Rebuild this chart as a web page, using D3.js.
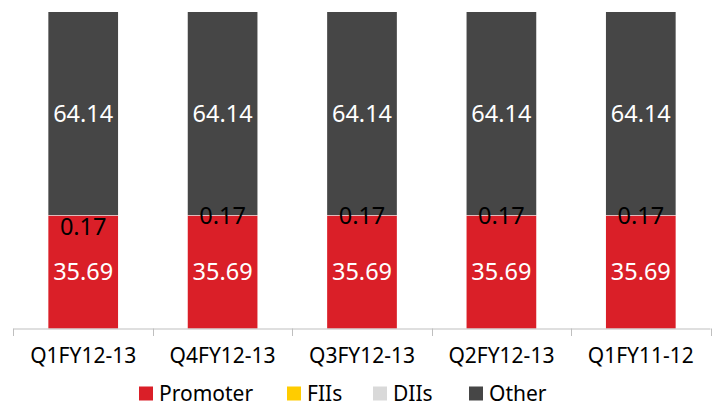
<!DOCTYPE html>
<html>
<head>
<meta charset="utf-8">
<script src="https://cdn.jsdelivr.net/npm/d3@7"></script>
<style>
  body { margin: 0; background: #fff; }
  text { font-family: "Noto Sans", sans-serif; }
</style>
</head>
<body>
<svg id="chart" width="717" height="407"></svg>
<script>
var quarters = ["Q1FY12-13", "Q4FY12-13", "Q3FY12-13", "Q2FY12-13", "Q1FY11-12"];
var seriesNames = ["Promoter", "FIIs", "DIIs", "Other"];
var promoter = [35.69, 35.69, 35.69, 35.69, 35.69];
var fiis = [0, 0, 0, 0, 0];
var diis = [0.17, 0.17, 0.17, 0.17, 0.17];
var other = [64.14, 64.14, 64.14, 64.14, 64.14];
var colors = ["#DA1F28", "#FFCC00", "#D9D9D9", "#464646"];

var rows = quarters.map(function(q, i) {
  return { q: q, Promoter: promoter[i], FIIs: fiis[i], DIIs: diis[i], Other: other[i] };
});

var svg = d3.select("#chart");

var x = d3.scaleBand().domain(quarters).range([13.5, 710.5]).paddingInner(0.5).paddingOuter(0.25);
var y = d3.scaleLinear().domain([0, 100]).range([328.5, 12]);

var stack = d3.stack().keys(seriesNames);
var layers = stack(rows);

var g = svg.append("g");

var layer = g.selectAll(".layer")
    .data(layers)
  .enter().append("g")
    .attr("fill", function(d, i) { return colors[i]; });

layer.selectAll("rect")
    .data(function(d) { return d; })
  .enter().append("rect")
    .attr("x", function(d) { return x(d.data.q); })
    .attr("width", x.bandwidth())
    .attr("y", function(d) { return y(d[1]); })
    .attr("height", function(d) { return y(d[0]) - y(d[1]); });

// value labels
layers.forEach(function(L, li) {
  if (L.key === "FIIs") return;
  g.selectAll(".lbl" + li)
      .data(L)
    .enter().append("text")
      .attr("x", function(d) { return x(d.data.q) + x.bandwidth() / 2; })
      .attr("y", function(d, i) {
        var c = y((d[0] + d[1]) / 2);
        if (L.key === "DIIs" && i === 0) c += 11;
        return c;
      })
      .attr("dy", "0.36em")
      .attr("text-anchor", "middle")
      .attr("font-size", "23.5px")
      .attr("fill", L.key === "DIIs" ? "#000" : "#fff")
      .text(function(d) { return (d[1] - d[0]).toFixed(2); });
});

// x axis
var axis = svg.append("g")
    .attr("transform", "translate(0," + y(0) + ")")
    .call(d3.axisBottom(x).tickSize(0).tickPadding(20));
axis.select(".domain").attr("stroke", "#BFBFBF").attr("d", "M13.5,0.5H710.5");
axis.selectAll("text").attr("font-size", "21px").attr("fill", "#000")
    .attr("font-family", "Noto Sans, sans-serif");

var edges = quarters.map(function(q) { return x(q) - x.step() * x.paddingInner() / 2; });
edges.push(710.5);
axis.selectAll(".edge")
    .data(edges)
  .enter().append("line")
    .attr("x1", function(d) { return Math.round(d) + 0.5; })
    .attr("x2", function(d) { return Math.round(d) + 0.5; })
    .attr("y1", 0).attr("y2", 7.5)
    .attr("stroke", "#BFBFBF");

// legend
var legendX = [139, 287, 373, 469];
var legend = svg.append("g");
var item = legend.selectAll("g")
    .data(seriesNames)
  .enter().append("g")
    .attr("transform", function(d, i) { return "translate(" + legendX[i] + ",386.5)"; });
item.append("rect").attr("width", 14).attr("height", 14)
    .attr("fill", function(d, i) { return colors[i]; });
item.append("text").attr("x", 20).attr("y", 14.5)
    .attr("font-size", "21px").attr("fill", "#000")
    .text(function(d) { return d; });
</script>
</body>
</html>
